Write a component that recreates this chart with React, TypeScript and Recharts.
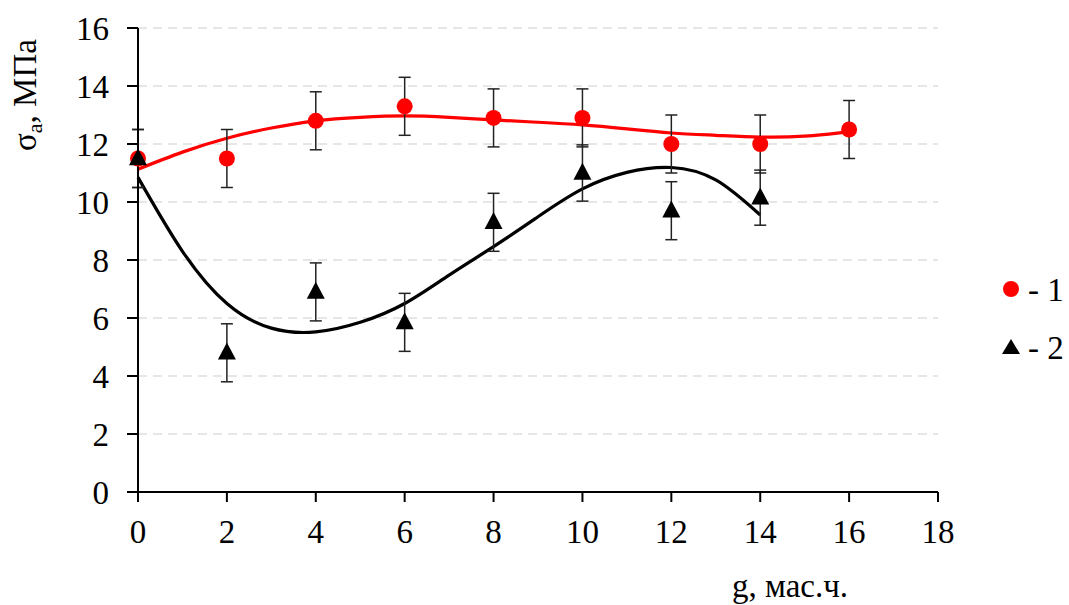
import React from 'react';
import { ComposedChart, Line, Scatter, XAxis, YAxis, CartesianGrid, ErrorBar } from 'recharts';

const xPoints1 = [0, 2, 4, 6, 8, 10, 12, 14, 16];
const values1 = [11.5, 11.5, 12.8, 13.3, 12.9, 12.9, 12.0, 12.0, 12.5];
const errors1 = [1, 1, 1, 1, 1, 1, 1, 1, 1];

const xPoints2 = [0, 2, 4, 6, 8, 10, 12, 14];
const values2 = [11.5, 4.8, 6.9, 5.85, 9.3, 11.0, 9.7, 10.15];
const errors2 = [1, 1, 1, 1, 1, 0.97, 1, 0.95];

const trend1X = [0, 1, 2, 3, 4, 5, 6, 7, 8, 9, 10, 11, 12, 13, 14, 15, 16];
const trend1Y = [11.13, 11.72, 12.2, 12.55, 12.8, 12.92, 12.97, 12.92, 12.83, 12.75, 12.66, 12.52, 12.38, 12.3, 12.24, 12.27, 12.42];

const trend2X = [0, 1, 2, 3, 4, 5, 6, 7, 8, 9, 10, 11, 12, 13, 14];
const trend2Y = [10.85, 8.3, 6.5, 5.65, 5.52, 5.85, 6.5, 7.48, 8.46, 9.49, 10.45, 11.02, 11.19, 10.76, 9.55];

const xTicks = [0, 2, 4, 6, 8, 10, 12, 14, 16, 18];
const yTicks = [0, 2, 4, 6, 8, 10, 12, 14, 16];

const FONT = '"Times New Roman", "Liberation Serif", "DejaVu Serif", "Noto Serif", Times, serif';
const FS = 33;

const data1 = xPoints1.map((x, i) => ({ x, y: values1[i], err: errors1[i] }));
const data2 = xPoints2.map((x, i) => ({ x, y: values2[i], err: errors2[i] }));
const trend1 = trend1X.map((x, i) => ({ x, t: trend1Y[i] }));
const trend2 = trend2X.map((x, i) => ({ x, t: trend2Y[i] }));

const RedDot = (props: any) => {
  const { cx, cy } = props;
  if (cx == null || cy == null) return null;
  return <circle cx={cx} cy={cy} r={8} fill="#ff0000" />;
};

const BlackTri = (props: any) => {
  const { cx, cy } = props;
  if (cx == null || cy == null) return null;
  const h = 17;
  const w = 18;
  return (
    <polygon
      points={`${cx},${cy - h * 0.6} ${cx - w / 2},${cy + h * 0.4} ${cx + w / 2},${cy + h * 0.4}`}
      fill="#000"
    />
  );
};

const textStyle = { fontFamily: FONT };

export default function App() {
  return (
    <div style={{ position: 'absolute', left: 0, top: 0, background: '#fff', fontFamily: FONT }}>
      <ComposedChart
        width={1069}
        height={605}
        margin={{ top: 28, right: 131, bottom: 73, left: 58 }}
        style={textStyle}
      >
        <CartesianGrid horizontal vertical={false} stroke="#dedede" strokeDasharray="9 6" strokeWidth={1.3} />
        <XAxis
          dataKey="x"
          type="number"
          domain={[0, 18]}
          ticks={xTicks}
          allowDuplicatedCategory={false}
          height={40}
          axisLine={{ stroke: '#000', strokeWidth: 2 }}
          tickLine={{ stroke: '#000', strokeWidth: 2 }}
          tickSize={10}
          tickMargin={18}
          tick={{ fill: '#000', fontFamily: FONT, fontSize: FS, style: textStyle }}
        />
        <YAxis
          type="number"
          domain={[0, 16]}
          ticks={yTicks}
          width={80}
          axisLine={{ stroke: '#000', strokeWidth: 2 }}
          tickLine={{ stroke: '#000', strokeWidth: 2 }}
          tickSize={11}
          tickMargin={18}
          tick={{ fill: '#000', fontFamily: FONT, fontSize: FS, style: textStyle }}
        />
        <Line
          data={trend1}
          dataKey="t"
          type="natural"
          stroke="#ff0000"
          strokeWidth={3.2}
          dot={false}
          activeDot={false}
          isAnimationActive={false}
          legendType="none"
        />
        <Line
          data={trend2}
          dataKey="t"
          type="natural"
          stroke="#000"
          strokeWidth={3.2}
          dot={false}
          activeDot={false}
          isAnimationActive={false}
          legendType="none"
        />
        <Scatter data={data1} dataKey="y" shape={RedDot} isAnimationActive={false}>
          <ErrorBar dataKey="err" direction="y" width={6} stroke="#222" strokeWidth={1.5} />
        </Scatter>
        <Scatter data={data2} dataKey="y" shape={BlackTri} isAnimationActive={false}>
          <ErrorBar dataKey="err" direction="y" width={6} stroke="#222" strokeWidth={1.5} />
        </Scatter>
        <g>
          <circle cx={1011} cy={289} r={8} fill="#ff0000" />
          <text x={1028} y={301} fontFamily={FONT} fontSize={FS} fill="#000" style={textStyle}>- 1</text>
          <polygon points="1011,339 1002,354 1020,354" fill="#000" />
          <text x={1028} y={359} fontFamily={FONT} fontSize={FS} fill="#000" style={textStyle}>- 2</text>
        </g>
        <text x={790} y={597} textAnchor="middle" fontFamily={FONT} fontSize={FS} fill="#000" style={textStyle}>
          g, мас.ч.
        </text>
        <text
          x={36}
          y={95}
          transform="rotate(-90, 36, 95)"
          textAnchor="middle"
          fontFamily={FONT}
          fontSize={FS}
          fill="#000"
          style={textStyle}
        >
          σ<tspan fontSize={22} dy={6}>a</tspan>
          <tspan dy={-6}>, МПа</tspan>
        </text>
      </ComposedChart>
    </div>
  );
}
